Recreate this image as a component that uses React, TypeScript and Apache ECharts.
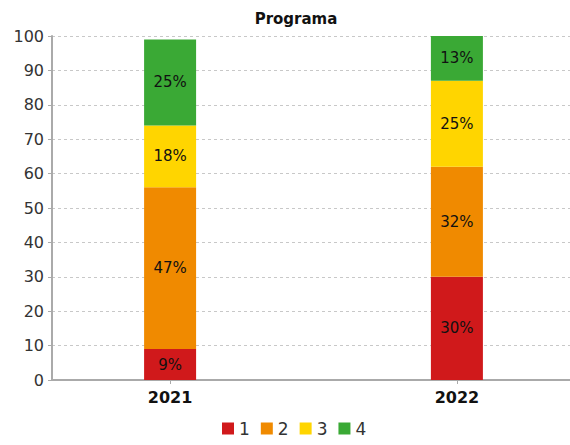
import React, { useEffect, useRef } from "react";
import * as echarts from "echarts";

const years = ["2021", "2022"];
const seriesNames = ["1", "2", "3", "4"];
const values1 = [9, 30];
const values2 = [47, 32];
const values3 = [18, 25];
const values4 = [25, 13];
const yTicks = [0, 10, 20, 30, 40, 50, 60, 70, 80, 90, 100];
const colors = ["#d0191b", "#f08a00", "#ffd500", "#3aa935"];

// category slots used only to place the two years along the axis like the reference
const SLOTS = 32;
const YEAR_SLOTS = [7, 24];

export default function App() {
  const ref = useRef<HTMLDivElement>(null);
  useEffect(() => {
    if (!ref.current) return;
    const chart = echarts.init(ref.current, null, { renderer: "svg" });
    const all = [values1, values2, values3, values4];
    const font = "DejaVu Sans";
    const cats: string[] = Array.from({ length: SLOTS }, () => "");
    YEAR_SLOTS.forEach((s, j) => (cats[s] = years[j]));
    chart.setOption({
      animation: false,
      textStyle: { fontFamily: font },
      title: {
        text: "Programa",
        left: 291,
        textAlign: "center",
        top: 6,
        textStyle: { fontFamily: font, fontSize: 15, fontWeight: "bold", color: "#111" },
      },
      legend: {
        bottom: 3,
        left: 217,
        icon: "rect",
        itemWidth: 12,
        itemHeight: 12,
        itemGap: 11,
        data: seriesNames,
        textStyle: { fontFamily: font, fontSize: 17, color: "#333" },
      },
      grid: { left: 52, right: -5, top: 36, bottom: 65, outerBoundsMode: "none", containLabel: false },
      xAxis: {
        type: "category",
        data: cats,
        boundaryGap: false,
        splitLine: { show: false },
        axisLine: { show: true, lineStyle: { color: "#aaaaaa", width: 2 } },
        axisTick: {
          show: true,
          length: 4,
          interval: (_i: number, v: string) => v !== "",
          lineStyle: { color: "#aaaaaa" },
        },
        axisLabel: {
          interval: 0,
          fontFamily: font,
          fontSize: 16,
          fontWeight: "bold",
          color: "#111",
          margin: 9,
        },
      },
      yAxis: {
        type: "value",
        min: 0,
        max: 100,
        interval: 10,
        axisLine: { show: true, lineStyle: { color: "#aaaaaa", width: 2 } },
        axisTick: { show: true, length: 4, lineStyle: { color: "#aaaaaa" } },
        axisLabel: {
          fontFamily: font,
          fontSize: 16,
          color: "#333",
          margin: 8,
          formatter: (v: number) => (yTicks.includes(v) ? String(v) : ""),
        },
        splitLine: { show: true, lineStyle: { color: "#c8c8c8", type: [3, 3] } },
      },
      series: seriesNames.map((name, i) => {
        const data: (number | null)[] = Array.from({ length: SLOTS }, () => null);
        YEAR_SLOTS.forEach((s, j) => (data[s] = all[i][j]));
        return {
          name,
          type: "bar",
          stack: "total",
          barWidth: 52,
          itemStyle: { color: colors[i] },
          label: {
            show: true,
            position: "inside",
            fontFamily: font,
            fontSize: 15,
            color: "#111",
            formatter: (p: any) => `${p.value}%`,
          },
          data,
        };
      }),
    });
    return () => chart.dispose();
  }, []);
  return (
    <div
      ref={ref}
      style={{ position: "absolute", left: 0, top: 0, width: 570, height: 445 }}
    />
  );
}
